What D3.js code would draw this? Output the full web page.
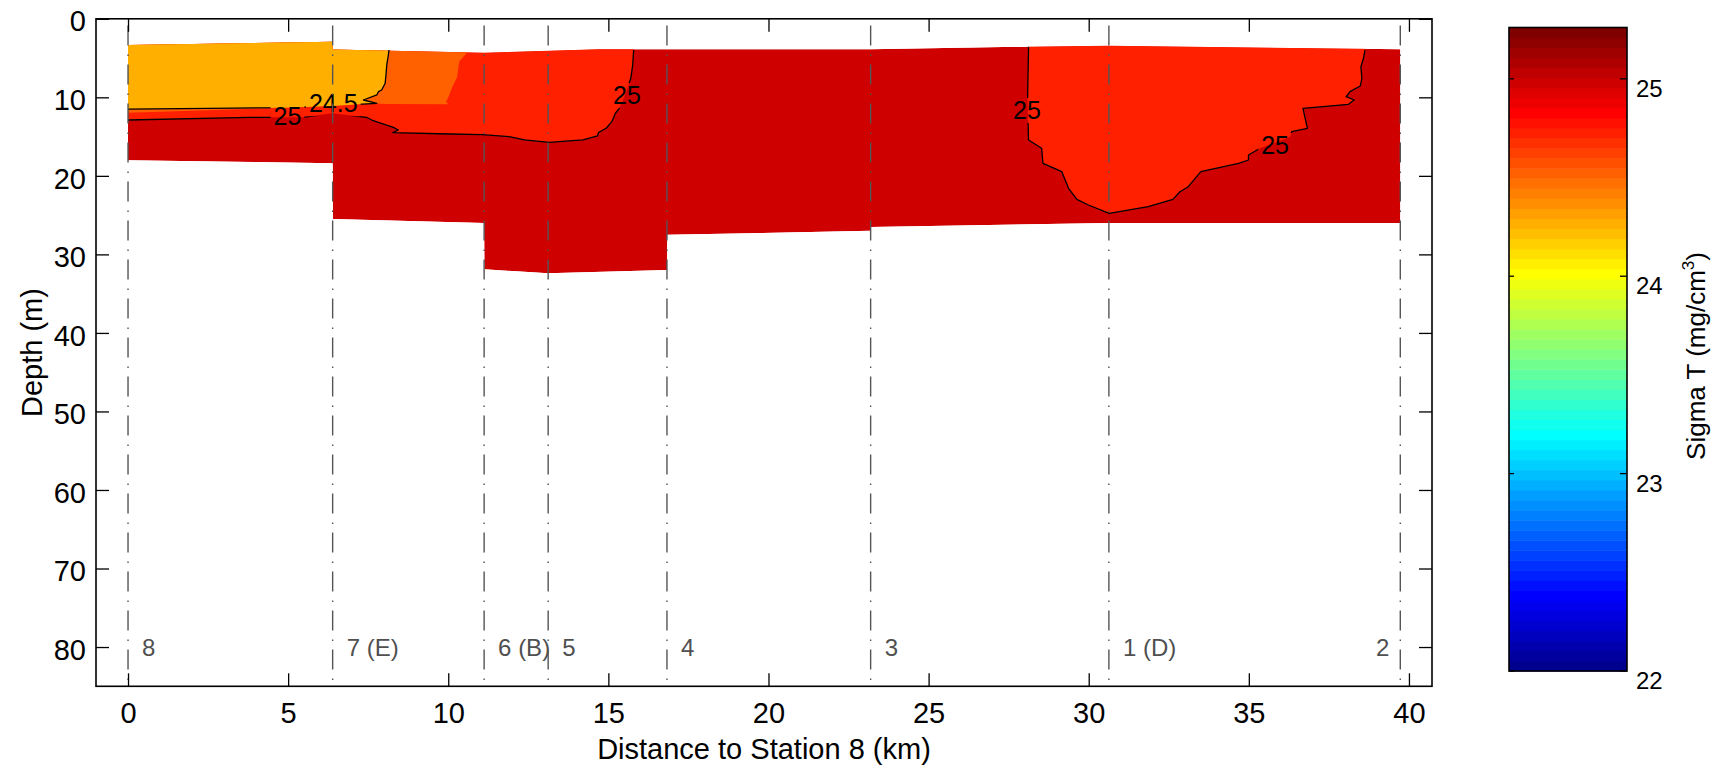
<!DOCTYPE html>
<html><head><meta charset="utf-8">
<script src="https://cdn.jsdelivr.net/npm/d3@7"></script>
<style>
body{margin:0;background:#fff;}
svg{display:block;}
text{font-family:"Liberation Sans",Arial,Helvetica,sans-serif;}
</style>
</head><body>
<svg id="c" width="1731" height="770"></svg>
<script>
// ---------------- data ----------------
const stationNames = ["8", "7 (E)", "6 (B)", "5", "4", "3", "1 (D)", "2"];
const stationKm    = [0, 6.39, 11.12, 13.12, 16.83, 23.19, 30.63, 39.73];
const xTicks = [0, 5, 10, 15, 20, 25, 30, 35, 40];
const yTicks = [0, 10, 20, 30, 40, 50, 60, 70, 80];
const cbTicks = [22, 23, 24, 25];
const fillLevels = [24.25, 24.5, 24.75, 25];   // contourf levels present in the section

// section extent (km, depth m)
const sectionTop = [[0,3.34],[6.38,2.91],[6.39,3.9],[11.12,4.31],[14.7,3.89],[23.19,3.89],[28.1,3.55],[30.63,3.42],[39.73,3.89]];
const sectionBottom = [[0,18.0],[6.39,18.4],[6.40,25.5],[11.12,26.0],[11.13,31.9],[13.12,32.4],[16.83,32.0],[16.84,27.5],[23.19,27.0],[23.2,26.5],[30.63,26.0],[39.73,26.0]];

// 24.5 contour (west)
const contour245 = [[0,11.49],[2.5,11.4],[5.06,11.3],[6.4,11.1],[7.16,10.89],[7.77,10.76],[7.35,10.34],[7.77,9.7],[7.82,9.28],[7.92,9.07],[8.03,8.21],[8.06,6.94],[8.08,5.88],[8.13,4.61],[8.15,3.97]];
// 24.75 edge (unlabelled), from surface down and back west
const edge2475 = [[10.58,3.5],[10.58,4.31],[10.34,5.46],[10.28,7.37],[10.11,8.85],[10.01,9.92],[9.93,10.56],[10.01,10.89],[8.0,10.85],[7.77,10.8],[7.16,10.89],[5.06,11.3],[2.5,11.65],[0,11.95]];
// 25 contour (west), from x=0 to surface
const contour25W = [[0,12.89],[3.81,12.54],[4.54,12.54],[5.47,12.54],[6.36,12.03],[7.45,12.54],[7.61,12.89],[8.29,13.82],[8.44,14.16],[8.27,14.5],[10.06,14.67],[11.06,14.76],[11.9,15.01],[12.38,15.43],[13.15,15.73],[14.21,15.43],[14.66,14.92],[14.69,14.5],[14.93,13.94],[15.11,13.1],[15.22,12.03],[15.34,11.4],[15.52,9.7],[15.7,7.58],[15.76,5.88],[15.79,3.97]];
// 25 contour (east), surface to surface
const contour25E = [[28.12,3.55],[28.12,3.97],[28.09,10.34],[28.12,15.43],[28.53,16.49],[28.57,18.4],[29.16,19.47],[29.37,21.58],[29.63,22.99],[29.99,23.71],[30.64,24.77],[31.86,23.93],[32.63,22.99],[32.85,22.02],[33.11,21.38],[33.5,19.47],[34.68,18.4],[34.99,17.98],[34.99,17.34],[35.35,16.49],[35.8,15.8],[36.29,15.01],[36.34,14.38],[36.83,13.94],[36.69,11.4],[38.11,10.89],[38.29,10.34],[38.04,9.92],[38.16,9.28],[38.48,8.56],[38.53,7.58],[38.5,6.1],[38.58,5.03],[38.63,3.97]];

const labelText  = ["24.5", "25", "25", "25", "25"];
const labelKm    = [6.41, 4.98, 15.58, 28.07, 35.82];
const labelDepth = [10.76, 12.42, 9.7, 11.61, 16.07];

// ---------------- setup ----------------
const svg = d3.select("#c");
const x = d3.scaleLinear().domain([-1, 40.72]).range([96, 1432]);
const y = d3.scaleLinear().domain([0, 85]).range([18.8, 686.3]);
const cmin = 22, cmax = 25.26;
const cb = d3.scaleLinear().domain([cmin, cmax]).range([671, 27.5]);

// MATLAB jet(64)
function jetRow(i) {
  const n = 16, r1 = i + 1;
  const u = [];
  for (let k = 1; k <= n; k++) u.push(k / n);
  for (let k = 0; k < n - 1; k++) u.push(1);
  for (let k = n; k >= 1; k--) u.push(k / n);
  const ch = s => { const k = r1 - s; return (k >= 0 && k < u.length) ? u[k] : 0; };
  return d3.rgb(ch(25) * 255, ch(9) * 255, ch(-7) * 255);
}
function levelColor(v) {
  const i = Math.max(0, Math.min(63, Math.floor((v - cmin) / (cmax - cmin) * 64)));
  return jetRow(i).toString();
}

const line = d3.line().x(d => x(d[0])).y(d => y(d[1]));
const defs = svg.append("defs");

// clip to section
const outline = sectionTop.concat(sectionBottom.slice().reverse());
defs.append("clipPath").attr("id", "sec").append("path").attr("d", line(outline) + "Z");

const xmin = x.domain()[0];
const gFill = svg.append("g").attr("clip-path", "url(#sec)");
// base: level 25
gFill.append("path").attr("d", line(outline) + "Z").attr("fill", levelColor(fillLevels[3]));
// west 24.75 region (above 25 contour)
{
  const c = contour25W, last = c[c.length - 1];
  const poly = [[xmin, 0], [last[0], 0]].concat(c.slice().reverse()).concat([[xmin, c[0][1]]]);
  gFill.append("path").attr("d", line(poly) + "Z").attr("fill", levelColor(fillLevels[2]));
}
// east 24.75 region
{
  const c = contour25E;
  const poly = [[c[0][0], 0]].concat(c).concat([[c[c.length - 1][0], 0]]);
  gFill.append("path").attr("d", line(poly) + "Z").attr("fill", levelColor(fillLevels[2]));
}
// 24.5 region
{
  const c = edge2475;
  const poly = [[xmin, 0], [c[0][0], 0]].concat(c).concat([[xmin, c[c.length - 1][1]]]);
  gFill.append("path").attr("d", line(poly) + "Z").attr("fill", levelColor(fillLevels[1]));
}
// 24.25 region
{
  const c = contour245, last = c[c.length - 1];
  const poly = [[xmin, 0], [last[0], 0]].concat(c.slice().reverse()).concat([[xmin, c[0][1]]]);
  gFill.append("path").attr("d", line(poly) + "Z").attr("fill", levelColor(fillLevels[0]));
}

// contour lines + labels
const gLines = svg.append("g");
const gLabels = svg.append("g");
labelText.forEach((t, i) => {
  gLabels.append("text")
    .attr("x", x(labelKm[i])).attr("y", y(labelDepth[i]))
    .attr("dy", "0.36em")
    .attr("text-anchor", "middle")
    .attr("font-size", 25)
    .attr("fill", "#000")
    .text(t);
});
const mask = defs.append("mask").attr("id", "lblmask")
  .attr("maskUnits", "userSpaceOnUse").attr("x", 0).attr("y", 0).attr("width", 1731).attr("height", 770);
mask.append("rect").attr("x", 0).attr("y", 0).attr("width", 1731).attr("height", 770).attr("fill", "#fff");
gLabels.selectAll("text").each(function () {
  const b = this.getBBox();
  mask.append("rect").attr("x", b.x - 3).attr("y", b.y + 2).attr("width", b.width + 6).attr("height", b.height - 3).attr("fill", "#000");
});
[contour245, contour25W, contour25E].forEach(c => {
  gLines.append("path").attr("d", line(c)).attr("fill", "none")
    .attr("stroke", "#000").attr("stroke-width", 1.3).attr("stroke-linejoin", "round")
    .attr("mask", "url(#lblmask)");
});

// station lines and names
const gSt = svg.append("g");
stationKm.forEach((km, i) => {
  gSt.append("line")
    .attr("x1", x(km)).attr("x2", x(km)).attr("y1", y(0)).attr("y2", y(85))
    .attr("stroke", "#555").attr("stroke-width", 1.4)
    .attr("stroke-dasharray", "20,9,1.5,8.5").attr("stroke-dashoffset", 32.25);
  const last = i === stationKm.length - 1;
  gSt.append("text")
    .attr("x", x(km) + (last ? -11 : 14))
    .attr("y", y(81.2))
    .attr("text-anchor", last ? "end" : "start")
    .attr("font-size", 24).attr("fill", "#505050")
    .text(stationNames[i]);
});

// axes
const fs = 29;
const ax = svg.append("g").attr("transform", `translate(0,${y(85)})`)
  .call(d3.axisBottom(x).tickValues(xTicks).tickSizeInner(-13).tickSizeOuter(0).tickPadding(16));
const axT = svg.append("g").attr("transform", `translate(0,${y(0)})`)
  .call(d3.axisTop(x).tickValues(xTicks).tickSizeInner(-13).tickSizeOuter(0).tickFormat(""));
const ay = svg.append("g").attr("transform", `translate(${x(xmin)},0)`)
  .call(d3.axisLeft(y).tickValues(yTicks).tickSizeInner(-13).tickSizeOuter(0).tickPadding(10));
const ayR = svg.append("g").attr("transform", `translate(${x(x.domain()[1])},0)`)
  .call(d3.axisRight(y).tickValues(yTicks).tickSizeInner(-13).tickSizeOuter(0).tickFormat(""));
[ax, axT, ay, ayR].forEach(g => {
  g.select(".domain").remove();
  g.selectAll(".tick line").attr("stroke", "#000").attr("stroke-width", 1.3);
  g.selectAll(".tick text").attr("font-size", fs).attr("fill", "#000").attr("font-family", null);
});
ay.selectAll(".tick text").attr("dy", "0.42em");
svg.append("rect").attr("x", x(xmin)).attr("y", y(0))
  .attr("width", x(x.domain()[1]) - x(xmin)).attr("height", y(85) - y(0))
  .attr("fill", "none").attr("stroke", "#000").attr("stroke-width", 1.6);

svg.append("text").attr("x", (x(xmin) + x(x.domain()[1])) / 2).attr("y", 759)
  .attr("text-anchor", "middle").attr("font-size", fs).text("Distance to Station 8 (km)");
svg.append("text").attr("transform", `translate(42,${(y(0) + y(85)) / 2}) rotate(-90)`)
  .attr("text-anchor", "middle").attr("font-size", fs).text("Depth (m)");

// colorbar
const cbx0 = 1509, cbx1 = 1627;
const gCb = svg.append("g");
const step = (cmax - cmin) / 64;
d3.range(64).forEach(i => {
  const v0 = cmin + i * step, v1 = cmin + (i + 1) * step;
  gCb.append("rect").attr("x", cbx0).attr("width", cbx1 - cbx0)
    .attr("y", cb(v1)).attr("height", cb(v0) - cb(v1) + 0.5)
    .attr("fill", jetRow(i).toString());
});
gCb.append("rect").attr("x", cbx0).attr("y", cb(cmax)).attr("width", cbx1 - cbx0)
  .attr("height", cb(cmin) - cb(cmax)).attr("fill", "none").attr("stroke", "#000").attr("stroke-width", 1.6);
cbTicks.forEach(t => {
  gCb.append("line").attr("x1", cbx1 - 7).attr("x2", cbx1).attr("y1", cb(t)).attr("y2", cb(t)).attr("stroke", "#000").attr("stroke-width", 1.3);
  gCb.append("line").attr("x1", cbx0).attr("x2", cbx0 + 5).attr("y1", cb(t)).attr("y2", cb(t)).attr("stroke", "#000").attr("stroke-width", 1.3);
  gCb.append("text").attr("x", cbx1 + 9).attr("y", cb(t) + 18).attr("font-size", 24).text(t);
});
const cbl = gCb.append("text").attr("transform", `translate(1705,356) rotate(-90)`)
  .attr("text-anchor", "middle").attr("font-size", 26);
cbl.append("tspan").text("Sigma T (mg/cm");
cbl.append("tspan").attr("font-size", 17).attr("dy", -11).text("3");
cbl.append("tspan").attr("dy", 11).text(")");
</script>
</body></html>
